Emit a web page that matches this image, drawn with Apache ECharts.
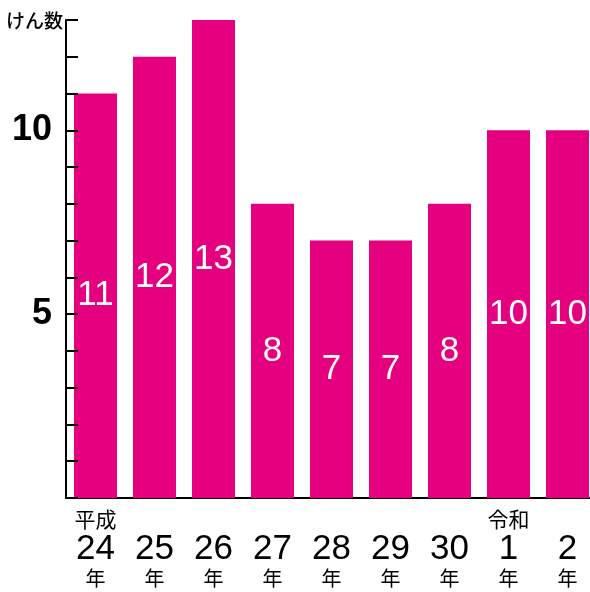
<!DOCTYPE html>
<html>
<head>
<meta charset="utf-8">
<script src="https://cdn.jsdelivr.net/npm/echarts@6/dist/echarts.min.js"></script>
<style>
  html, body { margin: 0; padding: 0; background: #fff; }
  #chart { width: 590px; height: 592px; }
</style>
</head>
<body>
<div id="chart"></div>
<script>
// era prefix shown above the year number (only where the era starts)
const eras = ['平成', '', '', '', '', '', '', '令和', ''];
const years = ['24', '25', '26', '27', '28', '29', '30', '1', '2'];
const counts = [11, 12, 13, 8, 7, 7, 8, 10, 10];
const yTickLabels = [5, 10];

const FONT = '"Liberation Sans", Arial, "Noto Sans CJK JP", sans-serif';
const JP = '"Noto Sans CJK JP", sans-serif';

const categories = years.map((y, i) => `{p|${eras[i] || ' '}}\n{n|${y}}\n{y|年}`);

const chart = echarts.init(document.getElementById('chart'), null, { renderer: 'canvas' });
chart.setOption({
  animation: false,
  backgroundColor: '#fff',
  title: {
    text: 'けん数',
    left: 6, top: 11, padding: 0,
    textStyle: { fontFamily: JP, fontSize: 19, fontWeight: 500, color: '#000' }
  },
  grid: { left: 66, top: 20, bottom: 94, width: 531, outerBoundsMode: 'none', containLabel: false },
  xAxis: {
    type: 'category',
    data: categories,
    axisLine: { lineStyle: { color: '#000', width: 2 } },
    axisTick: { show: false },
    axisLabel: {
      margin: 8,
      interval: 0,
      color: '#000',
      rich: {
        p: { fontFamily: JP, fontSize: 21, lineHeight: 27, color: '#000' },
        n: { fontFamily: FONT, fontSize: 35, lineHeight: 32, color: '#000' },
        y: { fontFamily: JP, fontSize: 20, lineHeight: 27, color: '#000' }
      }
    }
  },
  yAxis: {
    type: 'value',
    min: 0, max: 13, interval: 1,
    axisLine: { show: true, lineStyle: { color: '#000', width: 2 } },
    axisTick: { show: true, inside: true, length: 12, lineStyle: { color: '#000', width: 2 } },
    splitLine: { show: false },
    axisLabel: {
      margin: 14,
      color: '#000',
      fontFamily: FONT,
      fontSize: 36,
      fontWeight: 'bold',
      lineHeight: 40,
      padding: [12, 0, 0, 0],
      formatter: v => yTickLabels.includes(v) ? String(v) : ''
    },
    z: 10
  },
  series: [{
    type: 'bar',
    data: counts,
    barWidth: 43,
    itemStyle: { color: '#E4007F' },
    label: {
      show: true,
      position: 'inside',
      color: '#fff',
      fontFamily: FONT,
      fontSize: 35,
      fontWeight: 'normal'
    }
  }]
});
</script>
</body>
</html>
